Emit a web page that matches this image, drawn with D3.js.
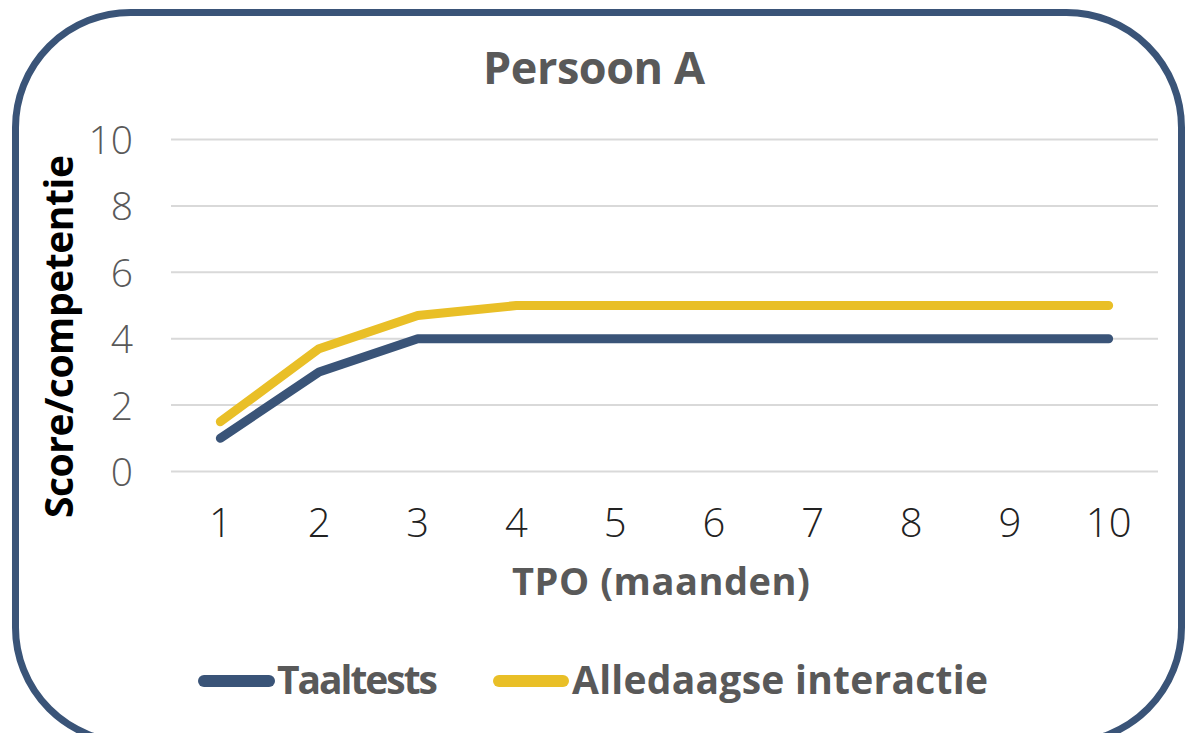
<!DOCTYPE html>
<html><head><meta charset="utf-8">
<script src="https://cdn.jsdelivr.net/npm/d3@7"></script>
<style>
body{margin:0;background:#fff;}
text{font-family:"Open Sans","DejaVu Sans",sans-serif;}
</style></head>
<body><svg id="c" width="1186" height="733"></svg>
<script>
const categories = ["1","2","3","4","5","6","7","8","9","10"];
const taaltests = [1,3,4,4,4,4,4,4,4,4];
const alledaags = [1.5,3.7,4.7,5,5,5,5,5,5,5];
const yTicks = [0,2,4,6,8,10];
const seriesNames = ["Taaltests","Alledaagse interactie"];
const colors = ["#3A5478","#E9BF27"];

const svg = d3.select("#c");
svg.append("rect").attr("x",15.5).attr("y",12.5).attr("width",1166).attr("height",730)
  .attr("rx",115).attr("ry",115).attr("fill","#fff").attr("stroke","#3A5478").attr("stroke-width",7);

const x = d3.scaleBand().domain(categories).range([171,1158]);
const y = d3.scaleLinear().domain([0,10]).range([471.5,139.5]);

// gridlines
svg.append("g").selectAll("line").data(yTicks).join("line")
  .attr("x1",171).attr("x2",1158).attr("y1",d=>y(d)).attr("y2",d=>y(d))
  .attr("stroke","#D9D9D9").attr("stroke-width",2);

// y axis
const ya = svg.append("g").attr("transform","translate(133,0)")
  .call(d3.axisLeft(y).tickValues(yTicks).tickSize(0).tickPadding(0));
ya.select(".domain").remove();
ya.selectAll("text").attr("font-size",39).attr("fill","#595959").attr("font-weight",300)
  .attr("font-family","'Open Sans',sans-serif").attr("dy","0.36em");

// x axis
const xa = svg.append("g").attr("transform","translate(0,537)")
  .call(d3.axisBottom(x).tickSize(0).tickPadding(0));
xa.select(".domain").remove();
xa.selectAll("text").attr("font-size",40).attr("fill","#222").attr("font-weight",300)
  .attr("font-family","'Open Sans',sans-serif").attr("dy","0");

const line = d3.line().x((d,i)=>x(categories[i])+x.bandwidth()/2).y(d=>y(d));
[taaltests, alledaags].forEach((s,i)=>{
  svg.append("path").datum(s).attr("d",line).attr("fill","none")
    .attr("stroke",colors[i]).attr("stroke-width",9).attr("stroke-linecap","round").attr("stroke-linejoin","round");
});

// title
svg.append("text").attr("x",483).attr("y",84)
  .attr("font-size",45).attr("font-weight",700).attr("fill","#595959")
  .attr("textLength",222).attr("lengthAdjust","spacing").text("Persoon A");
// x title
svg.append("text").attr("x",512).attr("y",595)
  .attr("font-size",38).attr("font-weight",700).attr("fill","#595959")
  .attr("textLength",298).attr("lengthAdjust","spacing").text("TPO (maanden)");
// y title
svg.append("text").attr("transform","translate(73,518) rotate(-90)")
  .attr("font-size",39).attr("font-weight",700).attr("fill","#000")
  .attr("textLength",363).attr("lengthAdjust","spacing").text("Score/competentie");

// legend
const leg = [{x1:204,x2:269,tx:277,w:161},{x1:499,x2:563,tx:572,w:416}];
leg.forEach((l,i)=>{
  svg.append("line").attr("x1",l.x1).attr("x2",l.x2).attr("y1",681).attr("y2",681)
    .attr("stroke",colors[i]).attr("stroke-width",12).attr("stroke-linecap","round");
  svg.append("text").attr("x",l.tx).attr("y",694).attr("font-size",39).attr("font-weight",700)
    .attr("fill","#595959").attr("textLength",l.w).attr("lengthAdjust","spacing").text(seriesNames[i]);
});
</script></body></html>
